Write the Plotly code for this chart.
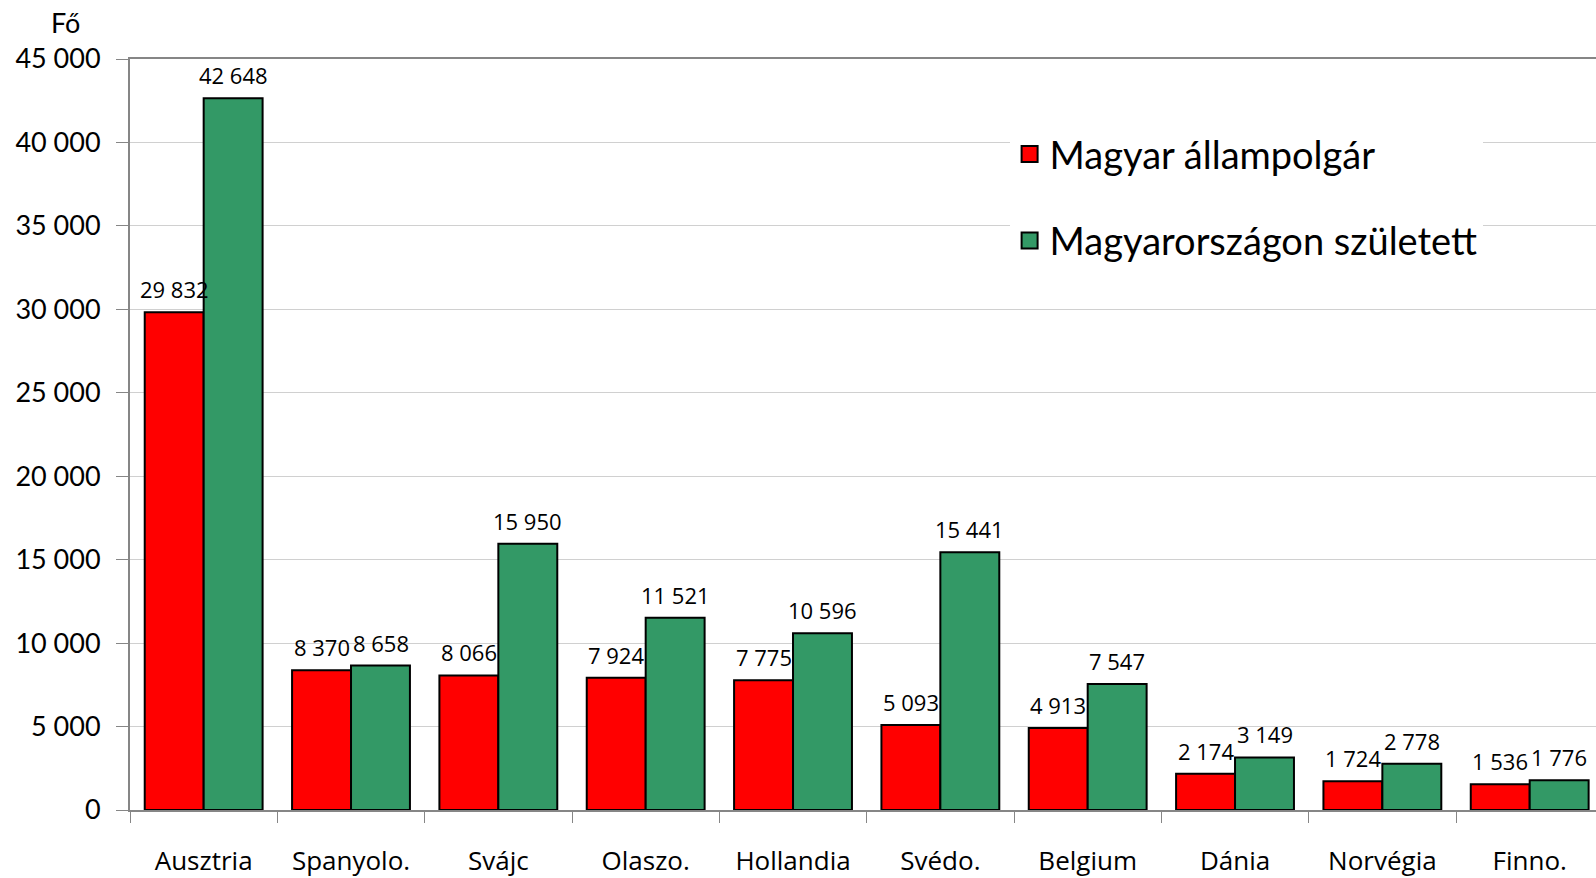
import plotly.graph_objects as go

categories = ["Ausztria", "Spanyolo.", "Svájc", "Olaszo.", "Hollandia", "Svédo.", "Belgium", "Dánia", "Norvégia", "Finno."]
magyar_allampolgar = [29832, 8370, 8066, 7924, 7775, 5093, 4913, 2174, 1724, 1536]
magyarorszagon_szuletett = [42648, 8658, 15950, 11521, 10596, 15441, 7547, 3149, 2778, 1776]
series_names = ["Magyar állampolgár", "Magyarországon született"]
y_tick_values = [0, 5000, 10000, 15000, 20000, 25000, 30000, 35000, 40000, 45000]


def fmt(v):
    return f"{v:,}".replace(",", " ")


FONT = "Lato, 'Open Sans', sans-serif"
LABEL_FONT = "'Open Sans', sans-serif"

fig = go.Figure()
for name, vals, color, grp in [
    (series_names[0], magyar_allampolgar, "#ff0000", "a"),
    (series_names[1], magyarorszagon_szuletett, "#339966", "b"),
]:
    fig.add_trace(go.Bar(
        x=categories, y=vals, name=name, showlegend=False,
        marker=dict(color=color, line=dict(color="black", width=2)),
        legendgroup=grp,
    ))
    # legend entry with a larger square swatch
    fig.add_trace(go.Scatter(
        x=[categories[0]], y=[None], mode="markers", name=name, legendgroup=grp,
        marker=dict(symbol="square", size=16, color=color, line=dict(color="black", width=2)),
        hoverinfo="skip",
    ))

# value labels above each bar (half a bar width left / right of the category centre)
half_bar_px = 29.5
annotations = []
for vals, sign in [(magyar_allampolgar, -1), (magyarorszagon_szuletett, 1)]:
    for cat, v in zip(categories, vals):
        annotations.append(dict(
            x=cat, y=v, xref="x", yref="y", text=fmt(v), showarrow=False,
            xanchor="center", yanchor="bottom", xshift=sign * half_bar_px, yshift=6,
            font=dict(size=22, family=LABEL_FONT, color="black"),
        ))
annotations.append(dict(
    text="Fő", xref="paper", yref="paper", x=-0.044, y=1.0,
    xanchor="center", yanchor="bottom", yshift=18, showarrow=False,
    font=dict(size=27, family=FONT),
))

fig.update_layout(
    width=1596, height=878,
    margin=dict(l=130, r=0, t=59, b=68),
    paper_bgcolor="white", plot_bgcolor="white",
    barmode="group", bargap=0.2, bargroupgap=0,
    separators=", ",
    font=dict(family=FONT, color="black"),
    legend=dict(
        x=0.60, y=0.915, xanchor="left", yanchor="top",
        bgcolor="white", font=dict(size=38, family=FONT),
        tracegroupgap=34, itemwidth=30,
    ),
    xaxis=dict(
        range=[-0.5, 9.45], automargin=False,
        showline=True, linecolor="#868686", linewidth=2, mirror=True,
        ticks="outside", tickson="boundaries", ticklen=11, tickcolor="#868686",
        tickfont=dict(size=26, family=LABEL_FONT),
        ticklabelstandoff=27,
    ),
    yaxis=dict(
        range=[0, 45000], tickvals=y_tick_values, automargin=False,
        ticktext=[fmt(v) for v in y_tick_values],
        showline=True, linecolor="#868686", linewidth=2,
        ticks="outside", ticklen=12, tickcolor="#868686",
        showgrid=True, gridcolor="#d0d0d0", gridwidth=1,
        tickfont=dict(size=27, family=FONT),
        ticklabelstandoff=10,
        zeroline=False,
    ),
    annotations=annotations,
)

fig.write_html(
    "out.html",
    config={"displayModeBar": False},
    post_script="document.body.style.margin='0px';document.body.style.overflow='hidden';",
)
